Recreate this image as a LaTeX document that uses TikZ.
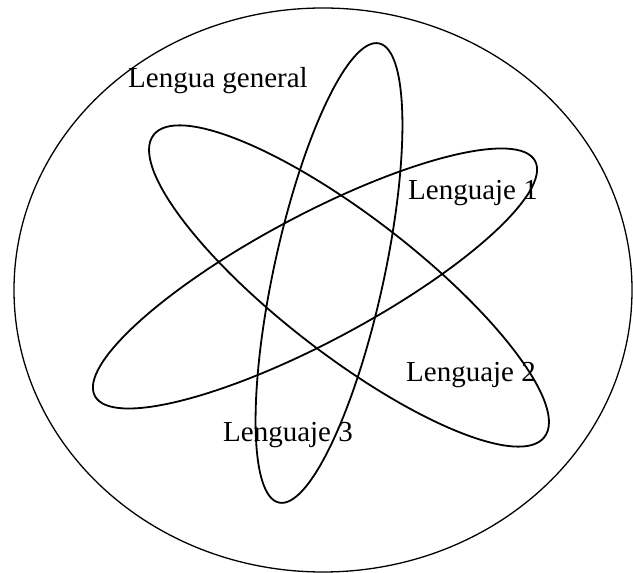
\documentclass[tikz,border=0pt]{standalone}
\usepackage{fontspec}
\setmainfont{Liberation Serif}
\usetikzlibrary{positioning}

\begin{document}
\begin{tikzpicture}[x=1pt,y=1pt,
  orbit/.style={line width=1.8pt},
  lab/.style={font=\fontsize{29}{32}\selectfont,inner sep=0pt,anchor=base west}]
\useasboundingbox (0,0) rectangle (633,573);
% outer set: lengua general
\draw[line width=1.3pt] (323,283) ellipse [x radius=309,y radius=282];
% the three languages
\foreach \cx/\cy/\ang/\ra/\rb in {315/294.5/28.1/249.5/63, 349/287/-37.7/247/69, 329/300/77.7/235/55}{
  \draw[orbit,rotate around={\ang:(\cx,\cy)}] (\cx,\cy) ellipse [x radius=\ra,y radius=\rb];
}
\node[lab] (gen) at (128,485) {Lengua general};
\node[lab] (l1) at (408,373) {Lenguaje 1};
\node[lab] (l2) at (406,191) {Lenguaje 2};
\node[lab] (l3) at (223,131) {Lenguaje 3};
\end{tikzpicture}
\end{document}
